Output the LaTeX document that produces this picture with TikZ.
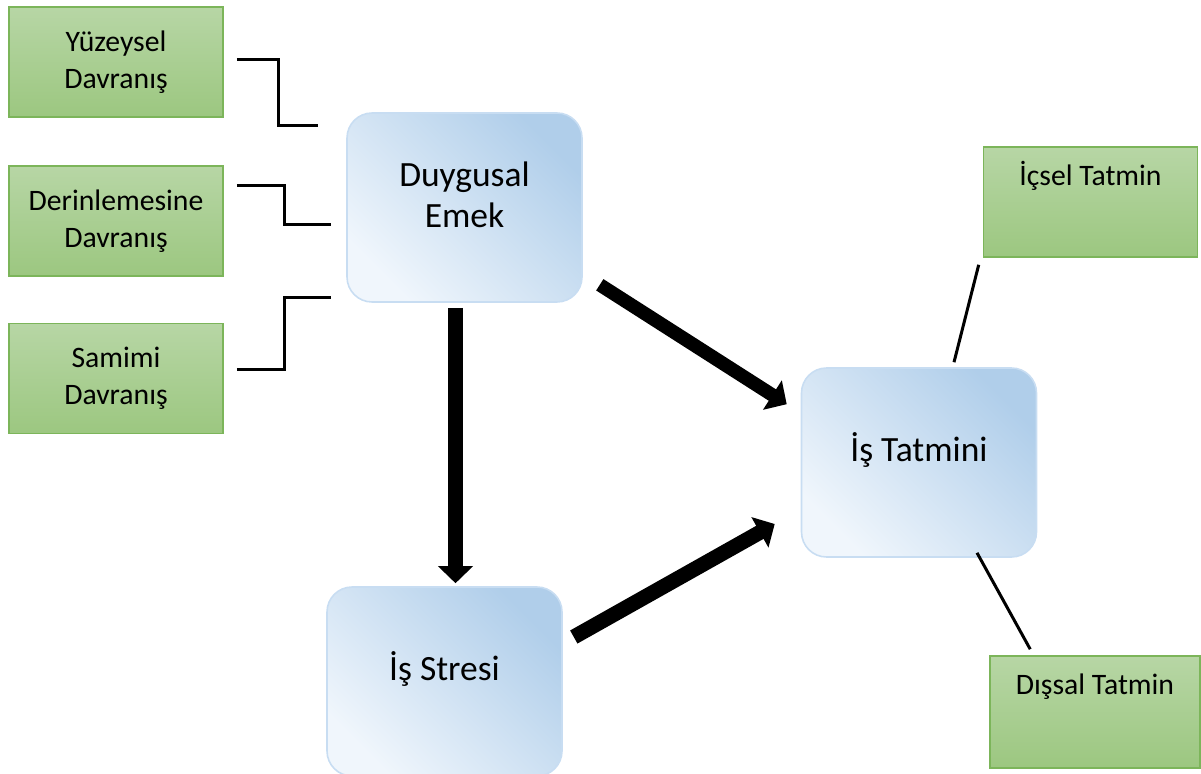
\documentclass[tikz,border=0pt]{standalone}
\usepackage{fontspec}
\setmainfont{Carlito}
\usetikzlibrary{arrows.meta}
\definecolor{grTop}{RGB}{183,214,165}
\definecolor{grBot}{RGB}{156,199,128}
\definecolor{grLine}{RGB}{124,181,90}
\definecolor{blDark}{RGB}{176,206,234}
\definecolor{blLight}{RGB}{240,246,252}
\definecolor{blLine}{RGB}{200,221,242}

\tikzset{
  greentext/.style={align=center, font=\fontsize{16.9}{21}\selectfont, inner sep=0pt},
  greenbox/.style={greentext, draw=grLine, line width=0.9pt, top color=grTop, bottom color=grBot,
    minimum width=4.28cm, minimum height=2.2cm},
  bluetext/.style={align=center, font=\fontsize{20.2}{23.5}\selectfont, inner sep=0pt},
  bluebox/.style={draw=blLine, line width=0.9pt, rounded corners=0.5cm, top color=blDark,
    bottom color=blLight, shading angle=-45, minimum width=4.7cm, minimum height=3.78cm},
  bracket/.style={line width=0.06cm},
  bigarrow/.style={line width=0.3cm, -{Triangle[length=0.34cm, width=0.68cm]}},
}

\begin{document}
\begin{tikzpicture}
    \useasboundingbox (0,0) rectangle (24.02,15.46);
    % behaviour boxes on the left
    \node[greenbox] (yuz) at (2.32,14.22) {Yüzeysel\\Davranış};
    \node[greenbox] (der) at (2.32,11.04) {Derinlemesine\\Davranış};
    \node[greenbox] (sam) at (2.32,7.89) {Samimi\\Davranış};
    % main concepts
    \node[bluebox, label={[bluetext, yshift=0.26cm]center:Duygusal\\Emek}] (duygu) at (9.29,11.31) {};
    \node[bluebox, label={[bluetext, yshift=0.26cm]center:İş Tatmini}] (tatmin) at (18.38,6.21) {};
    \node[bluebox, label={[bluetext, yshift=0.26cm]center:İş Stresi}] (stres) at (8.89,1.83) {};
    % satisfaction types on the right
    \node[greenbox, label={[greentext, anchor=center, yshift=-0.6cm]north:İçsel Tatmin}] (icsel) at (21.81,11.42) {};
    \node[greenbox, minimum width=4.2cm, minimum height=2.24cm,
          label={[greentext, anchor=center, yshift=-0.62cm]north:Dışsal Tatmin}] (dissal) at (21.9,1.22) {};

    \coordinate (d1) at ([xshift=-0.56cm,yshift=-0.26cm]duygu.north west);
    \coordinate (d2) at ([xshift=-0.3cm,yshift=-0.33cm]duygu.west);
    \coordinate (d3) at ([xshift=-0.3cm,yshift=0.1cm]duygu.south west);
    \draw[bracket] ([xshift=0.26cm,yshift=0.04cm]yuz.east) -- ++(0.84,0) |- (d1);
    \draw[bracket] ([xshift=0.26cm,yshift=0.72cm]der.east) -- ++(0.96,0) |- (d2);
    \draw[bracket] ([xshift=0.26cm,yshift=0.19cm]sam.east) -- ++(0.96,0) |- (d3);

    \coordinate (a1) at ([xshift=-0.18cm,yshift=-0.1cm]duygu.south);
    \draw[bigarrow, shorten >=0.06cm] (a1) -- (a1 |- stres.north);
    \draw[bigarrow, line width=0.27cm] ([xshift=0.34cm,yshift=0.36cm]duygu.south east)
        -- ([xshift=-0.28cm,yshift=-0.74cm]tatmin.north west);
    \draw[bigarrow] ([xshift=0.22cm,yshift=0.89cm]stres.east)
        -- ([xshift=-0.52cm,yshift=-1.23cm]tatmin.west);

    \draw[bracket] ([xshift=-0.08cm,yshift=-0.14cm]icsel.south west) -- ([xshift=0.7cm,yshift=0.1cm]tatmin.north);
    \draw[bracket] ([xshift=1.16cm,yshift=0.1cm]tatmin.south) -- ([xshift=0.82cm,yshift=0.12cm]dissal.north west);
\end{tikzpicture}
\end{document}
